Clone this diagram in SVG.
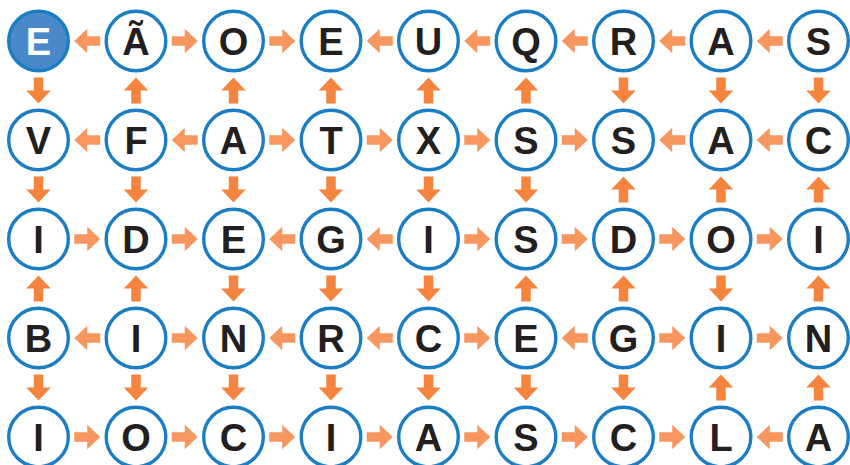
<svg xmlns="http://www.w3.org/2000/svg" xmlns:xlink="http://www.w3.org/1999/xlink" width="850" height="465" viewBox="0 0 850 465">
<style>
.n circle{fill:#ffffff;stroke:#1b7dc3;stroke-width:3.4}
.n text{font-family:"Liberation Sans",Arial,sans-serif;font-weight:bold;font-size:38px;fill:#231f20;text-anchor:middle}
.s circle{fill:#4a89c9;stroke:#1b7dc3}
.s text{fill:#ffffff}
.h{fill:#f7975f}
.v{fill:#f5843f}
</style>
<defs>
<polygon id="a" points="-13,-4.75 0,-4.75 0,-12.25 13,0 0,12.25 0,4.75 -13,4.75"/>
</defs>
<rect width="850" height="465" fill="#ffffff"/>
<g id="connectors">
<use href="#a" class="h" transform="translate(87.25,41) rotate(180)"/>
<use href="#a" class="h" transform="translate(184.75,41)"/>
<use href="#a" class="h" transform="translate(282.25,41)"/>
<use href="#a" class="h" transform="translate(379.75,41) rotate(180)"/>
<use href="#a" class="h" transform="translate(477.25,41) rotate(180)"/>
<use href="#a" class="h" transform="translate(574.75,41) rotate(180)"/>
<use href="#a" class="h" transform="translate(672.25,41) rotate(180)"/>
<use href="#a" class="h" transform="translate(769.75,41) rotate(180)"/>
<use href="#a" class="h" transform="translate(87.25,140) rotate(180)"/>
<use href="#a" class="h" transform="translate(184.75,140) rotate(180)"/>
<use href="#a" class="h" transform="translate(282.25,140)"/>
<use href="#a" class="h" transform="translate(379.75,140)"/>
<use href="#a" class="h" transform="translate(477.25,140)"/>
<use href="#a" class="h" transform="translate(574.75,140)"/>
<use href="#a" class="h" transform="translate(672.25,140) rotate(180)"/>
<use href="#a" class="h" transform="translate(769.75,140) rotate(180)"/>
<use href="#a" class="h" transform="translate(87.25,239)"/>
<use href="#a" class="h" transform="translate(184.75,239)"/>
<use href="#a" class="h" transform="translate(282.25,239) rotate(180)"/>
<use href="#a" class="h" transform="translate(379.75,239) rotate(180)"/>
<use href="#a" class="h" transform="translate(477.25,239)"/>
<use href="#a" class="h" transform="translate(574.75,239)"/>
<use href="#a" class="h" transform="translate(672.25,239)"/>
<use href="#a" class="h" transform="translate(769.75,239)"/>
<use href="#a" class="h" transform="translate(87.25,338) rotate(180)"/>
<use href="#a" class="h" transform="translate(184.75,338)"/>
<use href="#a" class="h" transform="translate(282.25,338) rotate(180)"/>
<use href="#a" class="h" transform="translate(379.75,338) rotate(180)"/>
<use href="#a" class="h" transform="translate(477.25,338)"/>
<use href="#a" class="h" transform="translate(574.75,338) rotate(180)"/>
<use href="#a" class="h" transform="translate(672.25,338)"/>
<use href="#a" class="h" transform="translate(769.75,338)"/>
<use href="#a" class="h" transform="translate(87.25,437)"/>
<use href="#a" class="h" transform="translate(184.75,437)"/>
<use href="#a" class="h" transform="translate(282.25,437)"/>
<use href="#a" class="h" transform="translate(379.75,437)"/>
<use href="#a" class="h" transform="translate(477.25,437)"/>
<use href="#a" class="h" transform="translate(574.75,437)"/>
<use href="#a" class="h" transform="translate(672.25,437)"/>
<use href="#a" class="h" transform="translate(769.75,437) rotate(180)"/>
<use href="#a" class="v" transform="translate(38.5,90.5) rotate(90)"/>
<use href="#a" class="v" transform="translate(136,90.5) rotate(-90)"/>
<use href="#a" class="v" transform="translate(233.5,90.5) rotate(-90)"/>
<use href="#a" class="v" transform="translate(331,90.5) rotate(-90)"/>
<use href="#a" class="v" transform="translate(428.5,90.5) rotate(-90)"/>
<use href="#a" class="v" transform="translate(526,90.5) rotate(-90)"/>
<use href="#a" class="v" transform="translate(623.5,90.5) rotate(90)"/>
<use href="#a" class="v" transform="translate(721,90.5) rotate(90)"/>
<use href="#a" class="v" transform="translate(818.5,90.5) rotate(90)"/>
<use href="#a" class="v" transform="translate(38.5,189.5) rotate(90)"/>
<use href="#a" class="v" transform="translate(136,189.5) rotate(90)"/>
<use href="#a" class="v" transform="translate(233.5,189.5) rotate(90)"/>
<use href="#a" class="v" transform="translate(331,189.5) rotate(90)"/>
<use href="#a" class="v" transform="translate(428.5,189.5) rotate(90)"/>
<use href="#a" class="v" transform="translate(526,189.5) rotate(90)"/>
<use href="#a" class="v" transform="translate(623.5,189.5) rotate(-90)"/>
<use href="#a" class="v" transform="translate(721,189.5) rotate(-90)"/>
<use href="#a" class="v" transform="translate(818.5,189.5) rotate(-90)"/>
<use href="#a" class="v" transform="translate(38.5,288.5) rotate(-90)"/>
<use href="#a" class="v" transform="translate(136,288.5) rotate(-90)"/>
<use href="#a" class="v" transform="translate(233.5,288.5) rotate(90)"/>
<use href="#a" class="v" transform="translate(331,288.5) rotate(90)"/>
<use href="#a" class="v" transform="translate(428.5,288.5) rotate(90)"/>
<use href="#a" class="v" transform="translate(526,288.5) rotate(-90)"/>
<use href="#a" class="v" transform="translate(623.5,288.5) rotate(-90)"/>
<use href="#a" class="v" transform="translate(721,288.5) rotate(90)"/>
<use href="#a" class="v" transform="translate(818.5,288.5) rotate(-90)"/>
<use href="#a" class="v" transform="translate(38.5,387.5) rotate(90)"/>
<use href="#a" class="v" transform="translate(136,387.5) rotate(90)"/>
<use href="#a" class="v" transform="translate(233.5,387.5) rotate(90)"/>
<use href="#a" class="v" transform="translate(331,387.5) rotate(90)"/>
<use href="#a" class="v" transform="translate(428.5,387.5) rotate(90)"/>
<use href="#a" class="v" transform="translate(526,387.5) rotate(90)"/>
<use href="#a" class="v" transform="translate(623.5,387.5) rotate(90)"/>
<use href="#a" class="v" transform="translate(721,387.5) rotate(-90)"/>
<use href="#a" class="v" transform="translate(818.5,387.5) rotate(-90)"/>
</g>
<g id="n-0-0" class="n s"><circle cx="38.5" cy="41" r="29.8"/><text x="38.5" y="54.6">E</text></g>
<g id="n-0-1" class="n"><circle cx="136" cy="41" r="29.8"/><text x="136" y="54.6">Ã</text></g>
<g id="n-0-2" class="n"><circle cx="233.5" cy="41" r="29.8"/><text x="233.5" y="54.6">O</text></g>
<g id="n-0-3" class="n"><circle cx="331" cy="41" r="29.8"/><text x="331" y="54.6">E</text></g>
<g id="n-0-4" class="n"><circle cx="428.5" cy="41" r="29.8"/><text x="428.5" y="54.6">U</text></g>
<g id="n-0-5" class="n"><circle cx="526" cy="41" r="29.8"/><text x="526" y="54.6">Q</text></g>
<g id="n-0-6" class="n"><circle cx="623.5" cy="41" r="29.8"/><text x="623.5" y="54.6">R</text></g>
<g id="n-0-7" class="n"><circle cx="721" cy="41" r="29.8"/><text x="721" y="54.6">A</text></g>
<g id="n-0-8" class="n"><circle cx="818.5" cy="41" r="29.8"/><text x="818.5" y="54.6">S</text></g>
<g id="n-1-0" class="n"><circle cx="38.5" cy="140" r="29.8"/><text x="38.5" y="153.6">V</text></g>
<g id="n-1-1" class="n"><circle cx="136" cy="140" r="29.8"/><text x="136" y="153.6">F</text></g>
<g id="n-1-2" class="n"><circle cx="233.5" cy="140" r="29.8"/><text x="233.5" y="153.6">A</text></g>
<g id="n-1-3" class="n"><circle cx="331" cy="140" r="29.8"/><text x="331" y="153.6">T</text></g>
<g id="n-1-4" class="n"><circle cx="428.5" cy="140" r="29.8"/><text x="428.5" y="153.6">X</text></g>
<g id="n-1-5" class="n"><circle cx="526" cy="140" r="29.8"/><text x="526" y="153.6">S</text></g>
<g id="n-1-6" class="n"><circle cx="623.5" cy="140" r="29.8"/><text x="623.5" y="153.6">S</text></g>
<g id="n-1-7" class="n"><circle cx="721" cy="140" r="29.8"/><text x="721" y="153.6">A</text></g>
<g id="n-1-8" class="n"><circle cx="818.5" cy="140" r="29.8"/><text x="818.5" y="153.6">C</text></g>
<g id="n-2-0" class="n"><circle cx="38.5" cy="239" r="29.8"/><text x="38.5" y="252.6">I</text></g>
<g id="n-2-1" class="n"><circle cx="136" cy="239" r="29.8"/><text x="136" y="252.6">D</text></g>
<g id="n-2-2" class="n"><circle cx="233.5" cy="239" r="29.8"/><text x="233.5" y="252.6">E</text></g>
<g id="n-2-3" class="n"><circle cx="331" cy="239" r="29.8"/><text x="331" y="252.6">G</text></g>
<g id="n-2-4" class="n"><circle cx="428.5" cy="239" r="29.8"/><text x="428.5" y="252.6">I</text></g>
<g id="n-2-5" class="n"><circle cx="526" cy="239" r="29.8"/><text x="526" y="252.6">S</text></g>
<g id="n-2-6" class="n"><circle cx="623.5" cy="239" r="29.8"/><text x="623.5" y="252.6">D</text></g>
<g id="n-2-7" class="n"><circle cx="721" cy="239" r="29.8"/><text x="721" y="252.6">O</text></g>
<g id="n-2-8" class="n"><circle cx="818.5" cy="239" r="29.8"/><text x="818.5" y="252.6">I</text></g>
<g id="n-3-0" class="n"><circle cx="38.5" cy="338" r="29.8"/><text x="38.5" y="351.6">B</text></g>
<g id="n-3-1" class="n"><circle cx="136" cy="338" r="29.8"/><text x="136" y="351.6">I</text></g>
<g id="n-3-2" class="n"><circle cx="233.5" cy="338" r="29.8"/><text x="233.5" y="351.6">N</text></g>
<g id="n-3-3" class="n"><circle cx="331" cy="338" r="29.8"/><text x="331" y="351.6">R</text></g>
<g id="n-3-4" class="n"><circle cx="428.5" cy="338" r="29.8"/><text x="428.5" y="351.6">C</text></g>
<g id="n-3-5" class="n"><circle cx="526" cy="338" r="29.8"/><text x="526" y="351.6">E</text></g>
<g id="n-3-6" class="n"><circle cx="623.5" cy="338" r="29.8"/><text x="623.5" y="351.6">G</text></g>
<g id="n-3-7" class="n"><circle cx="721" cy="338" r="29.8"/><text x="721" y="351.6">I</text></g>
<g id="n-3-8" class="n"><circle cx="818.5" cy="338" r="29.8"/><text x="818.5" y="351.6">N</text></g>
<g id="n-4-0" class="n"><circle cx="38.5" cy="437" r="29.8"/><text x="38.5" y="450.6">I</text></g>
<g id="n-4-1" class="n"><circle cx="136" cy="437" r="29.8"/><text x="136" y="450.6">O</text></g>
<g id="n-4-2" class="n"><circle cx="233.5" cy="437" r="29.8"/><text x="233.5" y="450.6">C</text></g>
<g id="n-4-3" class="n"><circle cx="331" cy="437" r="29.8"/><text x="331" y="450.6">I</text></g>
<g id="n-4-4" class="n"><circle cx="428.5" cy="437" r="29.8"/><text x="428.5" y="450.6">A</text></g>
<g id="n-4-5" class="n"><circle cx="526" cy="437" r="29.8"/><text x="526" y="450.6">S</text></g>
<g id="n-4-6" class="n"><circle cx="623.5" cy="437" r="29.8"/><text x="623.5" y="450.6">C</text></g>
<g id="n-4-7" class="n"><circle cx="721" cy="437" r="29.8"/><text x="721" y="450.6">L</text></g>
<g id="n-4-8" class="n"><circle cx="818.5" cy="437" r="29.8"/><text x="818.5" y="450.6">A</text></g>
</svg>
